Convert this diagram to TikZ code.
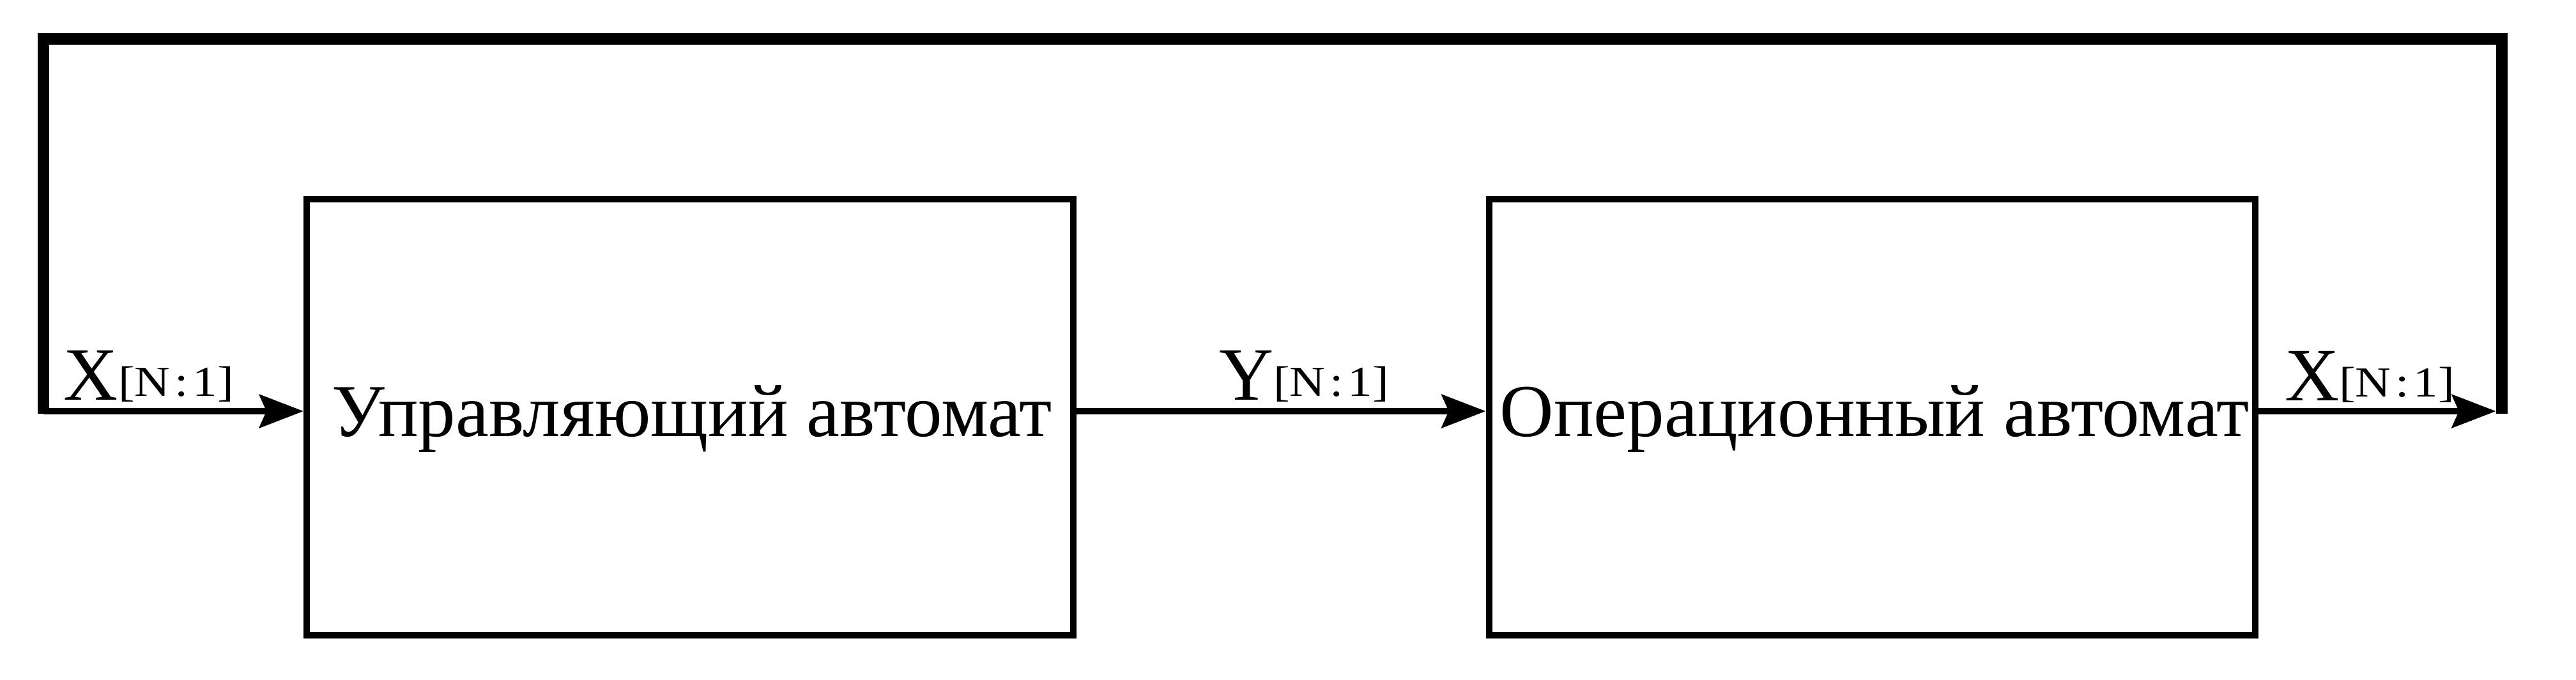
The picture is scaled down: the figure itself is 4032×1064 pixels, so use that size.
\documentclass[tikz,border=0pt]{standalone}
\usepackage{fontspec}
\setmainfont{Liberation Serif}
\newfontfamily\subfont[FakeStretch=1.15]{Liberation Serif}
\usetikzlibrary{arrows.meta}
\tikzset{
  unitbox/.style={draw, line width=1pt, minimum width=120pt, minimum height=68.3pt, inner sep=0pt},
  boxtext/.style={inner sep=0pt, anchor=base, font=\fontsize{11.7}{14}\selectfont},
  siglabel/.style={inner sep=0pt, anchor=base west, font=\fontsize{11.8}{14}\selectfont},
  sig/.style={line width=1pt, -{Stealth[length=6.9pt, width=5.2pt, inset=1.1pt]}},
  feedback/.style={line width=1.85pt, line join=miter, line cap=butt}
}
\newcommand{\busname}[1]{#1\raisebox{0.6pt}{\subfont\fontsize{6.7}{8}\selectfont[N\kern0.7pt:\kern0.7pt1]}}
\begin{document}
\begin{tikzpicture}[x=0.1pt, y=-0.1pt]
\useasboundingbox (0,0) rectangle (4032,1064);
% boxes
\node[unitbox] (b1) at (1080,653.5) {};
\node[unitbox] (b2) at (2930.5,653.5) {};
\node[boxtext] (t1) at (1083,683) {Управляющий автомат};
\node[boxtext] (t2) at (2934,683) {Операционный автомат};
% feedback loop coordinates
\coordinate (lb) at (68,644);
\coordinate (tl) at (68,61);
\coordinate (tr) at (3916,61);
\coordinate (rb) at (3916,644);
% signal arrows
\draw[sig] (lb) -- (b1.west |- lb);
\draw[sig] (b1.east |- lb) -- (b2.west |- lb);
\draw[sig, shorten >=0.93pt] (b2.east |- lb) -- (rb);
% thick feedback
\draw[feedback] ([yshift=-0.4pt]lb) -- (tl) -- (tr) -- ([yshift=-0.4pt]rb);
% labels
\node[siglabel] (lx1) at (98,626) {\busname{X}};
\node[siglabel] (ly) at (1906,626) {\busname{Y}};
\node[siglabel] (lx2) at (3574,627) {\busname{X}};
\end{tikzpicture}
\end{document}
